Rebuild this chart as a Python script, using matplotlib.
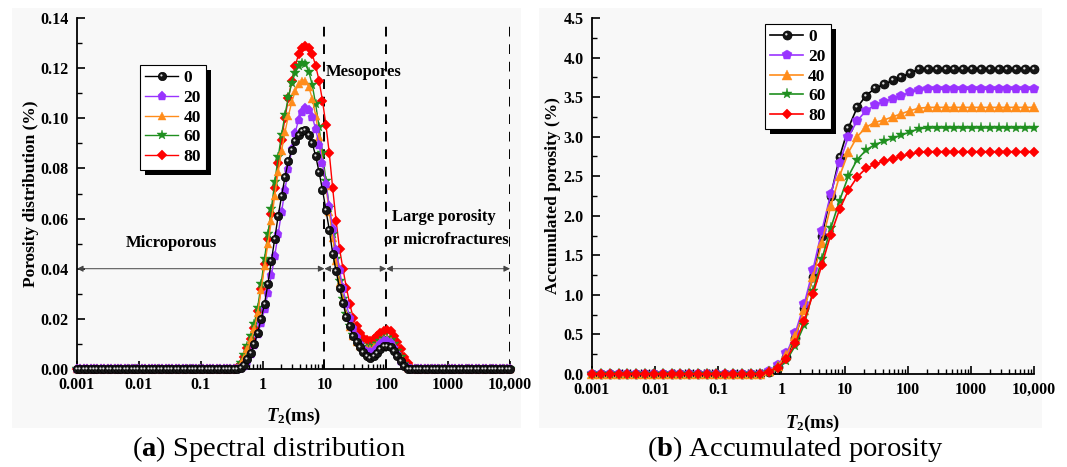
import numpy as np
import matplotlib
matplotlib.use("Agg")
import matplotlib.pyplot as plt
from matplotlib.ticker import FixedLocator, FixedFormatter, AutoMinorLocator, LogLocator, NullFormatter
from matplotlib.patches import Rectangle
from matplotlib.path import Path
from matplotlib.legend_handler import HandlerTuple

plt.rcParams['font.family'] = ['Liberation Serif', 'DejaVu Serif']
plt.rcParams['mathtext.fontset'] = 'custom'
plt.rcParams['mathtext.rm'] = 'Liberation Serif:bold'
plt.rcParams['mathtext.it'] = 'Liberation Serif:italic:bold'
plt.rcParams['mathtext.bf'] = 'Liberation Serif:bold'

# ---------------- data ----------------
series_labels = ["0", "20", "40", "60", "80"]
series_colors = ["#000000", "#9933ff", "#ff8c1a", "#1f8f1f", "#ff0000"]
series_markers = ["o", "p", "^", "*", "D"]

# left panel: T2 sampling grid (128 log-spaced points, 0.001-10000 ms)
t2_left = np.logspace(-3, 4, 128)

spec_0 = [0, 0, 0, 0, 0, 0, 0, 0, 0, 0,
          0, 0, 0, 0, 0, 0, 0, 0, 0, 0,
          0, 0, 0, 0, 0, 0, 0, 0, 0, 0,
          0, 0, 0, 0, 0, 0, 0, 0, 0, 0,
          0, 0, 0, 0, 0, 0,
          0, 0, 0.0004, 0.0017, 0.0038, 0.0065, 0.0100, 0.0145, 0.0200, 0.0260,
          0.0340, 0.0430, 0.0520, 0.0610, 0.0690, 0.0765, 0.0830, 0.0875, 0.0910, 0.0935,
          0.0948, 0.0952, 0.0935, 0.0900, 0.0850, 0.0785, 0.0715, 0.0635, 0.0555, 0.0460,
          0.0390, 0.0325, 0.0265, 0.0207, 0.0170, 0.0130, 0.0108, 0.0087, 0.0068, 0.0052,
          0.0045, 0.0052, 0.0065, 0.0080, 0.0090, 0.0092, 0.0086, 0.0073, 0.0052, 0.0030,
          0.0010, 0, 0, 0,
          0, 0, 0, 0, 0, 0, 0, 0, 0, 0,
          0, 0, 0, 0, 0, 0, 0, 0, 0, 0,
          0, 0, 0, 0, 0, 0, 0, 0]

spec_20 = [0, 0, 0, 0, 0, 0, 0, 0, 0, 0,
           0, 0, 0, 0, 0, 0, 0, 0, 0, 0,
           0, 0, 0, 0, 0, 0, 0, 0, 0, 0,
           0, 0, 0, 0, 0, 0, 0, 0, 0, 0,
           0, 0, 0, 0, 0, 0,
           0, 0, 0.0002, 0.0012, 0.0030, 0.0058, 0.0095, 0.0138, 0.0185, 0.0240,
           0.0303, 0.0373, 0.0452, 0.0538, 0.0626, 0.0715, 0.0799, 0.0876, 0.0943, 0.0994,
           0.1027, 0.1040, 0.1032, 0.1005, 0.0958, 0.0895, 0.0820, 0.0736, 0.0649, 0.0560,
           0.0474, 0.0393, 0.0322, 0.0258, 0.0205, 0.0162, 0.0127, 0.0098, 0.0078, 0.0068,
           0.0066, 0.0073, 0.0085, 0.0100, 0.0110, 0.0113, 0.0104, 0.0084, 0.0058, 0.0033,
           0.0014, 0.0002, 0, 0,
           0, 0, 0, 0, 0, 0, 0, 0, 0, 0,
           0, 0, 0, 0, 0, 0, 0, 0, 0, 0,
           0, 0, 0, 0, 0, 0, 0, 0]

spec_40 = [0, 0, 0, 0, 0, 0, 0, 0, 0, 0,
           0, 0, 0, 0, 0, 0, 0, 0, 0, 0,
           0, 0, 0, 0, 0, 0, 0, 0, 0, 0,
           0, 0, 0, 0, 0, 0, 0, 0, 0, 0,
           0, 0, 0, 0, 0, 0,
           0, 0.0002, 0.0020, 0.0045, 0.0080, 0.0115, 0.0160, 0.0225, 0.0315, 0.0410,
           0.0500, 0.0590, 0.0690, 0.0785, 0.0870, 0.0945, 0.1010, 0.1065, 0.1108, 0.1135,
           0.1148, 0.1150, 0.1125, 0.1078, 0.1011, 0.0927, 0.0829, 0.0728, 0.0625, 0.0524,
           0.0430, 0.0345, 0.0275, 0.0215, 0.0168, 0.0132, 0.0108, 0.0092, 0.0084, 0.0080,
           0.0081, 0.0087, 0.0097, 0.0108, 0.0117, 0.0120, 0.0113, 0.0095, 0.0070, 0.0044,
           0.0020, 0.0004, 0, 0,
           0, 0, 0, 0, 0, 0, 0, 0, 0, 0,
           0, 0, 0, 0, 0, 0, 0, 0, 0, 0,
           0, 0, 0, 0, 0, 0, 0, 0]

spec_60 = [0, 0, 0, 0, 0, 0, 0, 0, 0, 0,
           0, 0, 0, 0, 0, 0, 0, 0, 0, 0,
           0, 0, 0, 0, 0, 0, 0, 0, 0, 0,
           0, 0, 0, 0, 0, 0, 0, 0, 0, 0,
           0, 0, 0, 0, 0, 0,
           0, 0.0005, 0.0025, 0.0055, 0.0090, 0.0130, 0.0180, 0.0245, 0.0340, 0.0440,
           0.0540, 0.0640, 0.0745, 0.0845, 0.0935, 0.1015, 0.1085, 0.1140, 0.1182, 0.1208,
           0.1220, 0.1215, 0.1186, 0.1132, 0.1057, 0.0965, 0.0861, 0.0751, 0.0643, 0.0537,
           0.0439, 0.0351, 0.0278, 0.0218, 0.0170, 0.0135, 0.0110, 0.0095, 0.0087, 0.0085,
           0.0086, 0.0091, 0.0101, 0.0112, 0.0120, 0.0123, 0.0116, 0.0098, 0.0073, 0.0046,
           0.0021, 0.0004, 0, 0,
           0, 0, 0, 0, 0, 0, 0, 0, 0, 0,
           0, 0, 0, 0, 0, 0, 0, 0, 0, 0,
           0, 0, 0, 0, 0, 0, 0, 0]

spec_80 = [0, 0, 0, 0, 0, 0, 0, 0, 0, 0,
           0, 0, 0, 0, 0, 0, 0, 0, 0, 0,
           0, 0, 0, 0, 0, 0, 0, 0, 0, 0,
           0, 0, 0, 0, 0, 0, 0, 0, 0, 0,
           0, 0, 0, 0, 0, 0,
           0, 0.0003, 0.0020, 0.0048, 0.0082, 0.0120, 0.0165, 0.0230, 0.0320, 0.0420,
           0.0520, 0.0620, 0.0720, 0.0820, 0.0915, 0.1000, 0.1080, 0.1150, 0.1210, 0.1255,
           0.1282, 0.1290, 0.1282, 0.1255, 0.1210, 0.1150, 0.1070, 0.0975, 0.0860, 0.0720,
           0.0590, 0.0480, 0.0400, 0.0325, 0.0260, 0.0205, 0.0170, 0.0142, 0.0125, 0.0115,
           0.0112, 0.0118, 0.0130, 0.0143, 0.0152, 0.0155, 0.0150, 0.0133, 0.0108, 0.0078,
           0.0048, 0.0022, 0.0004, 0,
           0, 0, 0, 0, 0, 0, 0, 0, 0, 0,
           0, 0, 0, 0, 0, 0, 0, 0, 0, 0,
           0, 0, 0, 0, 0, 0, 0, 0]

# right panel: T2 grid (51 log-spaced points)
t2_right = np.logspace(-3, 4, 51)

acc_0 = [0, 0, 0, 0, 0, 0, 0, 0, 0, 0, 0, 0, 0, 0, 0, 0, 0, 0, 0,
         0.005, 0.03, 0.09, 0.22, 0.46, 0.84, 1.22, 1.75, 2.25, 2.74,
         3.11, 3.37, 3.52, 3.61, 3.66, 3.71, 3.75, 3.81, 3.85,
         3.86, 3.86, 3.86, 3.86, 3.86, 3.86, 3.86, 3.86, 3.86, 3.86, 3.86, 3.86, 3.86]
acc_20 = [0, 0, 0, 0, 0, 0, 0, 0, 0, 0, 0, 0, 0, 0, 0, 0, 0, 0, 0,
          0.005, 0.04, 0.11, 0.26, 0.52, 0.88, 1.32, 1.81, 2.27, 2.67,
          3.00, 3.20, 3.33, 3.40, 3.44, 3.48, 3.52, 3.56, 3.59,
          3.60, 3.60, 3.60, 3.60, 3.60, 3.60, 3.60, 3.60, 3.60, 3.60, 3.60, 3.60, 3.60]
acc_40 = [0, 0, 0, 0, 0, 0, 0, 0, 0, 0, 0, 0, 0, 0, 0, 0, 0, 0, 0,
          0.005, 0.035, 0.10, 0.24, 0.48, 0.81, 1.23, 1.66, 2.12, 2.50,
          2.80, 3.00, 3.12, 3.18, 3.21, 3.25, 3.29, 3.33, 3.36,
          3.37, 3.37, 3.37, 3.37, 3.37, 3.37, 3.37, 3.37, 3.37, 3.37, 3.37, 3.37, 3.37]
acc_60 = [0, 0, 0, 0, 0, 0, 0, 0, 0, 0, 0, 0, 0, 0, 0, 0, 0, 0, 0,
          0.004, 0.03, 0.08, 0.17, 0.36, 0.62, 1.05, 1.45, 1.84, 2.19,
          2.50, 2.71, 2.83, 2.90, 2.94, 2.98, 3.02, 3.06, 3.10,
          3.11, 3.11, 3.11, 3.11, 3.11, 3.11, 3.11, 3.11, 3.11, 3.11, 3.11, 3.11, 3.11]
acc_80 = [0, 0, 0, 0, 0, 0, 0, 0, 0, 0, 0, 0, 0, 0, 0, 0, 0, 0, 0,
          0.005, 0.03, 0.08, 0.19, 0.39, 0.67, 1.01, 1.38, 1.76, 2.08,
          2.32, 2.49, 2.60, 2.65, 2.69, 2.72, 2.75, 2.78, 2.80,
          2.81, 2.81, 2.81, 2.81, 2.81, 2.81, 2.81, 2.81, 2.81, 2.81, 2.81, 2.81, 2.81]

xtick_vals = [0.001, 0.01, 0.1, 1, 10, 100, 1000, 10000]
xtick_labels = ["0.001", "0.01", "0.1", "1", "10", "100", "1000", "10,000"]
left_yticks = [0.00, 0.02, 0.04, 0.06, 0.08, 0.10, 0.12, 0.14]
right_yticks = [0.0, 0.5, 1.0, 1.5, 2.0, 2.5, 3.0, 3.5, 4.0, 4.5]
region_bounds = [0.001, 10, 100, 10000]

spec_data = [spec_0, spec_20, spec_40, spec_60, spec_80]
acc_data = [acc_0, acc_20, acc_40, acc_60, acc_80]

# ---------------- figure ----------------
W, H = 1067, 467
fig = plt.figure(figsize=(W / 100, H / 100), dpi=100, facecolor='white')

def px_rect(x0, y0, x1, y1):
    return [x0 / W, 1 - y1 / H, (x1 - x0) / W, (y1 - y0) / H]

# faint panel backgrounds
for (x0, y0, x1, y1) in [(12, 8, 521, 428), (539, 8, 1042, 428)]:
    fig.patches.append(Rectangle((x0 / W, 1 - y1 / H), (x1 - x0) / W, (y1 - y0) / H,
                                 transform=fig.transFigure, facecolor='#f8f8f8',
                                 edgecolor='none', zorder=-10))

axL = fig.add_axes(px_rect(77, 18, 510, 369))
axR = fig.add_axes(px_rect(592, 18, 1034, 374))

# highlight marker for the "ball" style (small spot offset to upper-left)
_spot = Path.circle((-0.13, 0.13), 0.13)
highlight_marker = Path.make_compound_path(Path([(0.5, 0.5)], [Path.MOVETO]), _spot)

def style_axis(ax):
    ax.set_facecolor('none')
    ax.set_xscale('log')
    ax.set_xlim(0.001, 10000)
    for s in ['top', 'right']:
        ax.spines[s].set_visible(False)
    for s in ['left', 'bottom']:
        ax.spines[s].set_linewidth(1.3)
    ax.xaxis.set_major_locator(FixedLocator(xtick_vals))
    ax.xaxis.set_major_formatter(FixedFormatter(xtick_labels))
    ax.xaxis.set_minor_locator(LogLocator(base=10, subs=np.arange(2, 10), numticks=20))
    ax.xaxis.set_minor_formatter(NullFormatter())
    ax.tick_params(which='major', direction='in', length=6, width=1.2, pad=6)
    ax.tick_params(which='minor', direction='in', length=3.5, width=1.0)
    ax.yaxis.set_minor_locator(AutoMinorLocator(2))
    for lab in ax.get_xticklabels() + ax.get_yticklabels():
        lab.set_fontfamily('Liberation Serif')
        lab.set_fontweight('bold')
        lab.set_fontsize(11.5)

def draw_series(ax, x, y, j, ms, lw, z):
    if j == 0:
        l, = ax.plot(x, y, color='black', lw=lw, marker='o', ms=ms,
                     mfc='#151515', mec='black', mew=0.5, zorder=z, clip_on=False)
        h, = ax.plot(x, y, ls='none', marker=highlight_marker, ms=ms,
                     mfc='#e0e0e0', mec='none', zorder=z + 0.05, clip_on=False)
        return (l, h)
    l, = ax.plot(x, y, color=series_colors[j], lw=lw, marker=series_markers[j],
                 ms=ms, mfc=series_colors[j], mec=series_colors[j], mew=0.3,
                 zorder=z, clip_on=False)
    return l

# ---- left panel ----
left_ms = [6.0, 6.5, 6.0, 7.5, 5.0]
handles_L = {}
for j in [4, 3, 2, 1, 0]:
    handles_L[j] = draw_series(axL, t2_left, spec_data[j], j, left_ms[j], 1.0, 3 + (5 - j) * 0.1)

axL.set_ylim(0, 0.14)
axL.yaxis.set_major_locator(FixedLocator(left_yticks))
axL.yaxis.set_major_formatter(FixedFormatter(["%.2f" % v for v in left_yticks]))
style_axis(axL)

# region boundaries and arrows
for xb in region_bounds[1:]:
    axL.axvline(xb, ymin=0, ymax=0.985, color='black', lw=1.4, ls=(0, (5, 4)), zorder=2)
for a, b in zip(region_bounds[:-1], region_bounds[1:]):
    axL.annotate('', xy=(a, 0.04), xytext=(b, 0.04),
                 arrowprops=dict(arrowstyle='<|-|>', color='#444444', lw=0.7,
                                 mutation_scale=9, shrinkA=0, shrinkB=0), zorder=2)

bold = dict(family='Liberation Serif', weight='bold', size=12)
axL.text(0.0061, 0.0503, 'Microporous', ha='left', va='center', **bold)
axL.text(10.6, 0.1185, 'Mesopores', ha='left', va='center', **bold)
axL.text(122, 0.0607, 'Large porosity', ha='left', va='center', **bold)
axL.text(92, 0.0515, 'or microfractures', ha='left', va='center', **bold)

axL.set_ylabel('Porosity distribution (%)', fontfamily='Liberation Serif', fontweight='bold', fontsize=12.5)
axL.yaxis.set_label_coords(-0.088, 0.5)
axL.set_xlabel(r'$T_2$(ms)', fontfamily='Liberation Serif', fontweight='bold', fontsize=13.5)
axL.xaxis.set_label_coords(0.5, -0.105)

legkw = dict(handler_map={tuple: HandlerTuple(ndivide=1)},
             loc='upper left', borderaxespad=0,
             frameon=True, fancybox=False, edgecolor='black', framealpha=1,
             prop=dict(family='Liberation Serif', weight='bold', size=12.5),
             handlelength=1.9, handletextpad=0.3, labelspacing=0.2, borderpad=0.3)
legL = axL.legend([handles_L[j] for j in range(5)], series_labels,
                  bbox_to_anchor=(0.1455, 0.866), **legkw)
legL.get_frame().set_linewidth(0.8)

# ---- right panel ----
right_ms = [6.5, 7.0, 7.0, 8.0, 5.5]
handles_R = {}
for j in range(5):
    handles_R[j] = draw_series(axR, t2_right, acc_data[j], j, right_ms[j], 1.2, 3 + j * 0.1)

axR.set_ylim(0, 4.5)
axR.yaxis.set_major_locator(FixedLocator(right_yticks))
axR.yaxis.set_major_formatter(FixedFormatter(["%.1f" % v for v in right_yticks]))
style_axis(axR)

axR.set_ylabel('Accumulated porosity (%)', fontfamily='Liberation Serif', fontweight='bold', fontsize=12.5)
axR.yaxis.set_label_coords(-0.07, 0.5)
axR.set_xlabel(r'$T_2$(ms)', fontfamily='Liberation Serif', fontweight='bold', fontsize=13.5)
axR.xaxis.set_label_coords(0.5, -0.11)

legR = axR.legend([handles_R[j] for j in range(5)], series_labels,
                  bbox_to_anchor=(0.391, 0.983), **legkw)
legR.get_frame().set_linewidth(0.8)

# captions
fig.text(269 / W, 1 - 449 / H, r'($\mathbf{a}$) Spectral distribution', ha='center', va='center',
         fontfamily='Liberation Serif', fontsize=20.5)
fig.text(795 / W, 1 - 449 / H, r'($\mathbf{b}$) Accumulated porosity', ha='center', va='center',
         fontfamily='Liberation Serif', fontsize=20.5)

# solid black drop shadows behind legends (figure-level, under the axes content)
fig.canvas.draw()
for leg in [legL, legR]:
    bb = leg.get_frame().get_window_extent(fig.canvas.get_renderer())
    sh = Rectangle(((bb.x0 + 5) / W, (bb.y0 - 5) / H), bb.width / W, bb.height / H,
                   transform=fig.transFigure, facecolor='black', edgecolor='none', zorder=-1)
    fig.patches.append(sh)

fig.savefig('out.png', dpi=100, facecolor='white')
